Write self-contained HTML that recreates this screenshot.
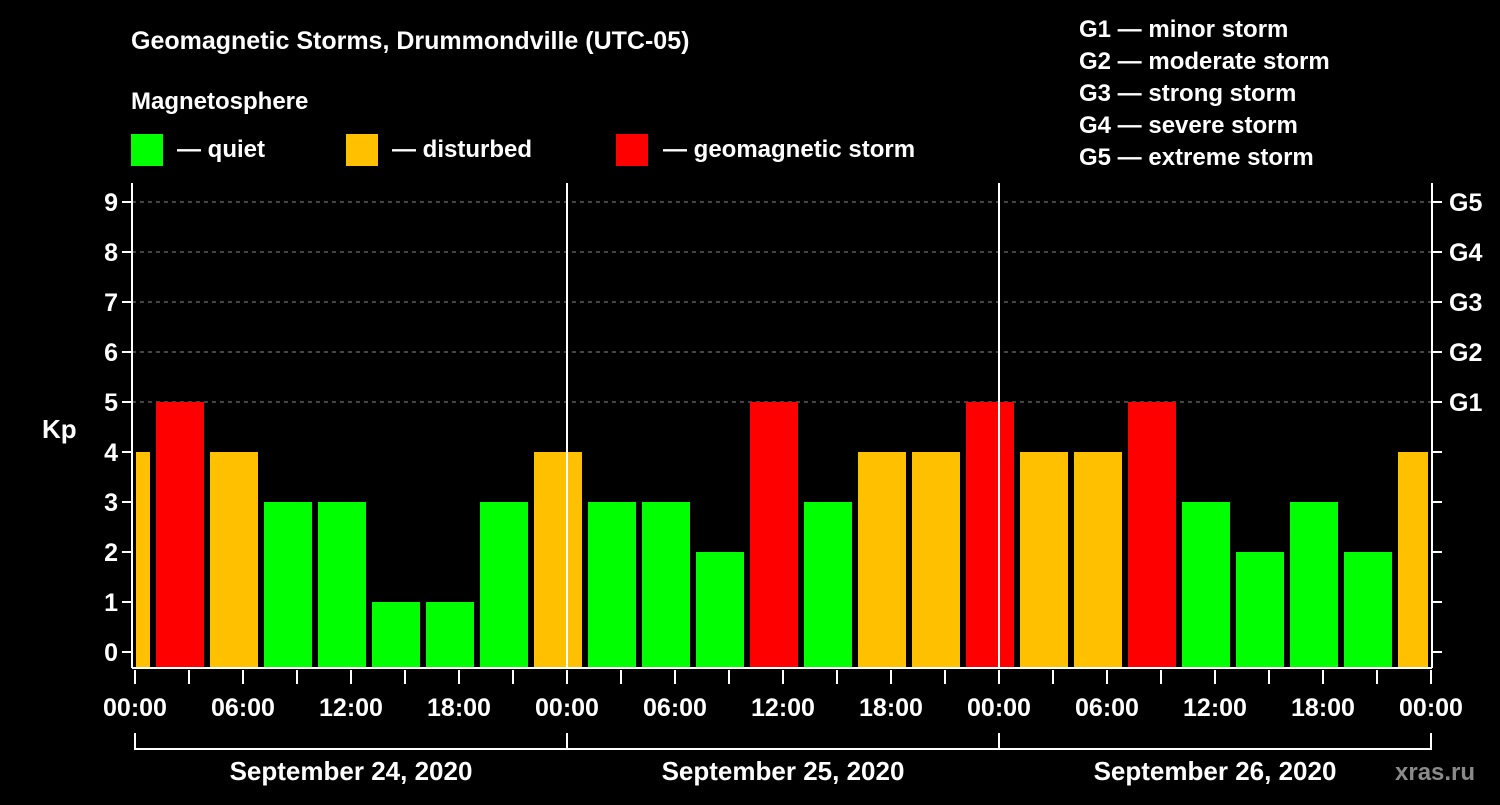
<!DOCTYPE html>
<html><head><meta charset="utf-8"><style>
body{margin:0;background:#000;width:1500px;height:800px;overflow:hidden}
svg text{font-family:"Liberation Sans",sans-serif;font-weight:bold;fill:#fff}
</style></head><body>
<svg id="c" width="1500" height="800">
<text x="131" y="49" font-size="25">Geomagnetic Storms, Drummondville (UTC-05)</text>
<text x="131" y="109" font-size="24">Magnetosphere</text>
<rect x="131" y="134" width="32" height="32" fill="#00ff00"/>
<text x="177" y="157" font-size="24">— quiet</text>
<rect x="346" y="134" width="32" height="32" fill="#ffc000"/>
<text x="392" y="157" font-size="24">— disturbed</text>
<rect x="616" y="134" width="32" height="32" fill="#ff0000"/>
<text x="663" y="157" font-size="24">— geomagnetic storm</text>
<g font-size="24">
<text x="1079" y="37">G1 — minor storm</text>
<text x="1079" y="69">G2 — moderate storm</text>
<text x="1079" y="101">G3 — strong storm</text>
<text x="1079" y="133">G4 — severe storm</text>
<text x="1079" y="165">G5 — extreme storm</text>
</g>
<text x="42" y="438" font-size="26">Kp</text>
<text x="1395" y="780" font-size="24" fill="#888" style="fill:#8a8a8a">xras.ru</text>
<g id="plot"></g>
</svg>
<script>
const kpValues=[4,5,4,3,3,1,1,3,4,3,3,2,5,3,4,4,5,4,4,5,3,2,3,2,4];
const timeLabels=["00:00","06:00","12:00","18:00","00:00","06:00","12:00","18:00","00:00","06:00","12:00","18:00","00:00"];
const dayLabels=["September 24, 2020","September 25, 2020","September 26, 2020"];
const kpTicks=[0,1,2,3,4,5,6,7,8,9];
const gLabels=["G1","G2","G3","G4","G5"];
const NS="http://www.w3.org/2000/svg";
const g=document.getElementById('plot');
const X0=135,PXH=18,L=132,R=1432,B=668,T=183;
const xs=h=>X0+h*PXH;
const ys=k=>652-50*k;
function mk(t,a){const e=document.createElementNS(NS,t);for(const k in a)e.setAttribute(k,a[k]);g.appendChild(e);return e;}
// grid
kpTicks.forEach(k=>{
 if(k>=5){const l=mk('line',{x1:L,x2:R,y1:ys(k),y2:ys(k),stroke:'#888','stroke-dasharray':'4,4','stroke-width':1});
 
 }
 const t1=mk('line',{x1:L-10,x2:L,y1:ys(k),y2:ys(k),stroke:'#fff','stroke-width':2});
 
 
 const t2=mk('line',{x1:R,x2:R+10,y1:ys(k),y2:ys(k),stroke:'#fff','stroke-width':2});
 
 
 const tx=mk('text',{x:L-14,y:ys(k)+9,'font-size':25,'text-anchor':'end'});tx.textContent=k;
 
 
 if(k>=5){const gt=mk('text',{x:R+17,y:ys(k)+9,'font-size':25});gt.textContent=gLabels[k-5];
 
 }
});
// bars
kpValues.forEach((v,i)=>{
 const h0=1+3*(i-1);
 let x1=Math.max(xs(h0)+3,L+4),x2=Math.min(xs(h0+3)-3,R-4);
 const col=v>=5?'#ff0000':(v>=4?'#ffc000':'#00ff00');
 const r=mk('rect',{x:x1,y:ys(v),width:x2-x1,height:B-ys(v),fill:col});
 
 
});
// axes
[[L,B,R,B],[L,T,L,B],[R,T,R,B],[xs(24),T,xs(24),B],[xs(48),T,xs(48),B]].forEach(a=>{
 const l=mk('line',{x1:a[0],y1:a[1],x2:a[2],y2:a[3],stroke:'#fff','stroke-width':2});
 
 
});
for(let h=0;h<=72;h+=3){
 const l=mk('line',{x1:xs(h),x2:xs(h),y1:B+2,y2:B+16,stroke:'#fff','stroke-width':2});
 
 
}
timeLabels.forEach((s,i)=>{
 const t=mk('text',{x:xs(i*6),y:716,'font-size':25,'text-anchor':'middle'});t.textContent=s;
 
 
});
const br=mk('path',{d:`M${xs(0)} 733V749H${xs(72)}V733M${xs(24)} 733V749M${xs(48)} 733V749`,stroke:'#fff','stroke-width':2,fill:'none'});


dayLabels.forEach((s,i)=>{
 const t=mk('text',{x:xs(i*24+12),y:780,'font-size':26,'text-anchor':'middle'});t.textContent=s;
 
 
});
</script>
</body></html>
